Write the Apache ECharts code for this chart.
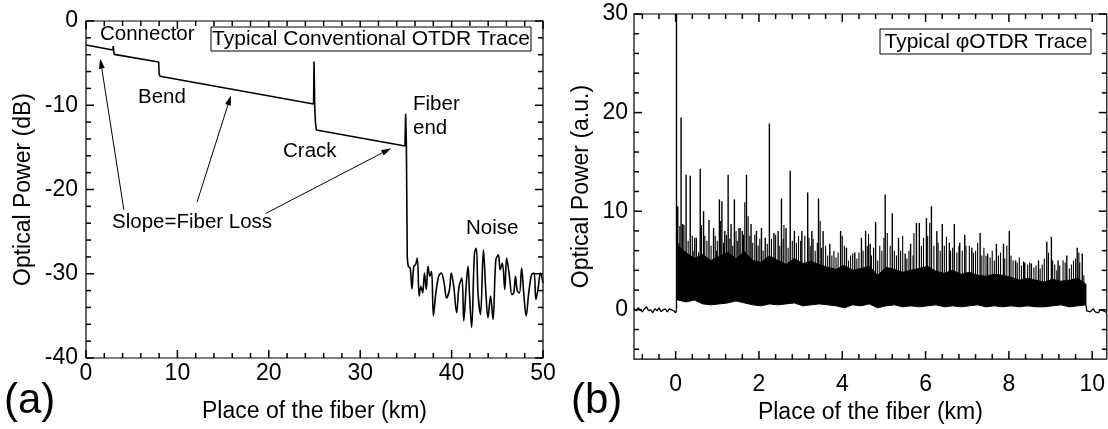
<!DOCTYPE html>
<html><head><meta charset="utf-8">
<script src="https://cdn.jsdelivr.net/npm/echarts@6/dist/echarts.min.js"></script>
<style>html,body{margin:0;padding:0;background:#fff}#c{width:1108px;height:429px}</style>
</head><body><div id="c"></div>
<script>
// ---------- Panel (a): conventional OTDR trace ----------
const aTraceX = [0, 2.95, 2.98, 3.03, 3.08, 7.95, 8.0, 8.1, 24.9, 24.95, 25.02, 25.1, 25.2, 34.9, 34.97, 35.05, 35.15];
const aTraceY = [-2.85, -3.44, -2.97, -3.1, -3.96, -4.87, -6.3, -6.55, -9.85, -4.8, -9.9, -12.0, -12.94, -14.84, -11.0, -14.5, -28.0];
const aNoiseX = [35.15, 35.27, 35.47, 35.66, 35.86, 36.05, 36.25, 36.45, 36.64, 36.84, 37.03, 37.23, 37.42, 37.62, 37.81, 38.01, 38.28, 38.59, 38.87, 39.18, 39.45, 39.77, 39.96, 40.23, 40.55, 40.82, 41.13, 41.33, 41.64, 41.80, 41.95, 42.19, 42.50, 42.70, 42.89, 43.16, 43.48, 43.75, 43.98, 44.26, 44.53, 44.84, 45.12, 45.31, 45.55, 45.82, 46.02, 46.33, 46.60, 46.80, 46.99, 47.19, 47.42, 47.66, 47.89, 48.16, 48.44, 48.75, 49.02, 49.22, 49.45, 49.73, 50.0];
const aNoiseY = [-28.0, -29.13, -29.32, -31.80, -29.13, -28.93, -28.15, -32.66, -31.48, -32.27, -29.91, -31.87, -29.13, -30.30, -29.72, -35.01, -32.27, -30.30, -29.91, -31.09, -32.86, -31.87, -29.91, -31.48, -34.62, -31.48, -30.50, -35.60, -30.70, -29.13, -32.27, -36.39, -27.56, -26.97, -32.27, -34.82, -27.16, -32.27, -35.21, -32.66, -35.41, -28.34, -27.75, -29.52, -28.73, -31.87, -28.15, -30.30, -32.46, -32.27, -30.30, -32.07, -32.27, -29.32, -32.27, -35.01, -32.27, -30.11, -29.91, -33.05, -31.87, -29.91, -31.09];
// arrows "Slope=Fiber Loss" (data units)
const aArrowFromX = [4.14, 12.15, 19.65];
const aArrowFromY = [-22.4, -21.5, -22.85];
const aArrowToX = [1.56, 15.86, 33.4];
const aArrowToY = [-4.47, -8.83, -15.1];
const aXMajor = [0, 10, 20, 30, 40, 50];
const aXMinor = [2, 4, 6, 8, 12, 14, 16, 18, 22, 24, 26, 28, 32, 34, 36, 38, 42, 44, 46, 48];
const aYMajor = [-40, -30, -20, -10, 0];
const aYMinor = [-38, -36, -34, -32, -28, -26, -24, -22, -18, -16, -14, -12, -8, -6, -4, -2];

// ---------- Panel (b): phi-OTDR trace ----------
const bPreX = [-1.0, -0.95, -0.9, -0.85, -0.8, -0.75, -0.7, -0.65, -0.6, -0.55, -0.5, -0.45, -0.4, -0.35, -0.3, -0.25, -0.2, -0.15, -0.1, -0.05, 0.0, 0.02];
const bPreY = [0.1, -0.1, 0.2, 0.0, -0.2, 0.1, 0.3, -0.1, 0.0, -0.3, 0.1, -0.1, 0.2, -0.2, 0.0, 0.1, -0.2, 0.1, 0.0, -0.1, -0.3, 0.0];
const bPostX = [9.85, 9.87, 9.91, 9.95, 9.99, 10.03, 10.07, 10.11, 10.15, 10.19, 10.23, 10.27, 10.31, 10.35];
const bPostY = [0.5, -0.1, 0.0, -0.2, -0.1, 0.1, -0.2, -0.1, -0.3, 0.0, -0.2, -0.1, -0.2, -0.3];
const bBandX = [0.05, 0.25, 0.45, 0.65, 0.85, 1.05, 1.25, 1.45, 1.65, 1.85, 2.05, 2.25, 2.45, 2.65, 2.85, 3.05, 3.25, 3.45, 3.65, 3.85, 4.05, 4.25, 4.45, 4.65, 4.85, 5.05, 5.25, 5.45, 5.65, 5.85, 6.05, 6.25, 6.45, 6.65, 6.85, 7.05, 7.25, 7.45, 7.65, 7.85, 8.05, 8.25, 8.45, 8.65, 8.85, 9.05, 9.25, 9.45, 9.65, 9.85];
const bBandHi = [6.5, 5.8, 5.2, 5.6, 5.0, 5.4, 5.8, 5.2, 5.9, 5.0, 4.8, 5.5, 5.0, 4.6, 5.2, 4.7, 4.9, 4.6, 4.3, 4.1, 4.5, 4.0, 4.2, 4.4, 3.5, 4.3, 4.1, 3.8, 4.0, 4.2, 4.4, 3.9, 3.7, 4.0, 3.6, 3.8, 3.5, 3.4, 3.6, 3.5, 3.3, 3.0, 3.2, 3.0, 2.8, 3.1, 2.9, 3.0, 3.2, 2.6];
const bBandLo = [1.0, 0.8, 1.0, 0.6, 0.5, 0.6, 0.7, 0.9, 0.7, 0.5, 0.4, 0.6, 0.5, 0.6, 0.7, 0.4, 0.5, 0.6, 0.5, 0.4, 0.2, 0.5, 0.4, 0.6, 0.2, 0.4, 0.5, 0.3, 0.4, 0.3, 0.4, 0.5, 0.3, 0.4, 0.3, 0.4, 0.5, 0.3, 0.4, 0.3, 0.4, 0.3, 0.4, 0.3, 0.3, 0.4, 0.5, 0.3, 0.4, 0.5];
// tall spikes
const bSpikeX = [0.02, 0.05, 0.13, 0.17, 0.25, 0.35, 0.46, 0.59, 0.67, 0.8, 0.91, 1.05, 1.11, 1.18, 1.26, 1.33, 1.41, 1.52, 1.6, 1.7, 1.81, 1.94, 2.06, 2.15, 2.25, 2.36, 2.46, 2.54, 2.65, 2.75, 2.85, 3.03, 3.17, 3.27, 3.43, 3.54, 3.7, 3.96, 4.1, 4.3, 4.46, 4.56, 4.67, 4.8, 5.03, 5.2, 5.35, 5.51, 5.64, 5.78, 5.85, 6.02, 6.14, 6.27, 6.4, 6.57, 6.69, 6.82, 6.94, 7.11, 7.31, 7.49, 7.7, 7.87, 8.01, 8.16, 8.38, 8.54, 8.71, 8.91, 9.02, 9.18, 9.39, 9.64, 9.76];
const bSpikeY = [30, 10.5, 19.5, 8.7, 13.7, 13.6, 7.3, 14.3, 10.0, 9.1, 8.3, 11.2, 11.0, 8.0, 13.7, 8.7, 11.2, 8.3, 8.0, 13.7, 8.7, 8.0, 8.3, 7.3, 18.9, 7.8, 8.0, 11.3, 8.3, 14.1, 8.0, 8.0, 11.9, 8.0, 11.3, 8.0, 6.7, 8.0, 6.3, 5.8, 7.3, 8.0, 6.7, 8.9, 11.7, 9.8, 7.3, 5.7, 6.7, 8.8, 8.8, 9.3, 10.5, 8.0, 8.7, 6.8, 8.7, 6.8, 7.6, 6.3, 7.8, 5.7, 6.7, 6.7, 8.0, 5.0, 4.8, 4.7, 5.0, 6.9, 7.4, 5.0, 5.5, 6.3, 5.7];
// mid-level "grass" spikes
const bGrassX = [0.08, 0.1, 0.2, 0.3, 0.4, 0.42, 0.5, 0.55, 0.62, 0.7, 0.75, 0.85, 0.95, 0.98, 1.0, 1.08, 1.15, 1.22, 1.3, 1.37, 1.45, 1.48, 1.55, 1.63, 1.66, 1.74, 1.78, 1.85, 1.9, 1.98, 2.02, 2.1, 2.2, 2.3, 2.4, 2.5, 2.58, 2.6, 2.7, 2.8, 2.9, 2.95, 3.0, 3.1, 3.2, 3.23, 3.3, 3.35, 3.4, 3.47, 3.5, 3.6, 3.65, 3.75, 3.8, 3.85, 3.9, 4.0, 4.05, 4.15, 4.2, 4.25, 4.35, 4.4, 4.5, 4.6, 4.63, 4.7, 4.75, 4.85, 4.9, 4.95, 5.0, 5.08, 5.15, 5.25, 5.3, 5.4, 5.45, 5.55, 5.6, 5.7, 5.72, 5.9, 5.95, 6.05, 6.1, 6.2, 6.3, 6.35, 6.45, 6.5, 6.6, 6.65, 6.75, 6.8, 6.88, 6.97, 7.05, 7.15, 7.2, 7.25, 7.35, 7.4, 7.45, 7.55, 7.6, 7.65, 7.75, 7.8, 7.9, 7.95, 8.05, 8.1, 8.2, 8.25, 8.3, 8.35, 8.45, 8.5, 8.6, 8.65, 8.75, 8.8, 8.85, 8.95, 9.05, 9.1, 9.15, 9.22, 9.3, 9.35, 9.45, 9.5, 9.55, 9.6, 9.68, 9.7, 9.8];
const bGrassY = [6.8, 8.5, 8.6, 7.0, 7.5, 6.0, 7.3, 5.8, 8.6, 7.5, 7.0, 6.5, 7.5, 6.0, 7.0, 9.0, 6.8, 7.6, 7.2, 6.5, 8.0, 7.0, 8.3, 7.6, 10.9, 9.5, 7.5, 6.8, 7.6, 6.5, 7.2, 6.0, 6.7, 7.2, 7.6, 6.5, 7.2, 8.6, 6.3, 7.0, 6.8, 7.5, 7.0, 7.5, 7.3, 6.5, 7.2, 6.0, 6.8, 9.0, 6.3, 6.5, 5.5, 5.5, 6.0, 5.3, 5.8, 7.5, 6.5, 5.0, 5.5, 5.7, 5.2, 5.8, 6.0, 6.5, 7.7, 5.5, 6.3, 5.0, 6.5, 6.0, 7.3, 7.8, 6.5, 6.0, 5.5, 6.0, 7.5, 5.2, 6.0, 5.5, 7.8, 6.5, 7.3, 7.5, 8.8, 6.5, 6.8, 6.0, 6.5, 7.4, 6.0, 6.3, 5.8, 6.5, 6.0, 6.5, 6.5, 5.8, 6.0, 6.8, 5.5, 6.3, 5.5, 5.3, 6.0, 5.0, 5.5, 5.8, 5.2, 6.5, 5.5, 5.0, 4.8, 5.3, 4.5, 4.9, 4.6, 4.8, 4.3, 4.5, 4.2, 4.6, 5.2, 5.8, 5.0, 4.6, 4.0, 4.5, 5.0, 4.8, 4.2, 4.6, 5.0, 5.2, 5.8, 4.8, 3.5];
const bXMajor = [0, 2, 4, 6, 8, 10];
const bXMinor = [-0.8, -0.4, 0.4, 0.8, 1.2, 1.6, 2.4, 2.8, 3.2, 3.6, 4.4, 4.8, 5.2, 5.6, 6.4, 6.8, 7.2, 7.6, 8.4, 8.8, 9.2, 9.6, 10.4];
const bYMajor = [0, 10, 20, 30];
const bYMinor = [-4, -2, 2, 4, 6, 8, 12, 14, 16, 18, 22, 24, 26, 28];

const FONT = '"Liberation Sans", Arial, sans-serif';
const TICK_FS = 23, TITLE_FS = 23, ANN_FS = 20.5;
const MAJOR_PX = 8, MINOR_PX = 5;
const zip = (xs, ys) => xs.map((x, i) => [x, ys[i]]);
const black = '#000';

// grid boxes (pixels) and axis ranges
const G = [
  { left: 86, top: 21, width: 457, height: 337, x: [0, 50], y: [-40, 0] },
  { left: 634, top: 14, width: 473, height: 349, x: [-1, 10.35], y: [-5, 30] }
];

function labelAxis(o) {
  const a = {
    type: 'value', gridIndex: o.grid, position: o.pos, min: o.min, max: o.max,
    axisLine: { show: false, onZero: false },
    axisTick: { show: false }, minorTick: { show: false }, splitLine: { show: false },
    axisLabel: { show: true, color: black, fontSize: TICK_FS, fontFamily: FONT, margin: o.margin },
    name: o.name, nameLocation: 'middle', nameGap: o.nameGap,
    nameTextStyle: { color: black, fontSize: TITLE_FS, fontFamily: FONT }
  };
  if (o.interval) a.interval = o.interval;
  if (o.labelValues) a.axisLabel.customValues = o.labelValues;
  return a;
}

const xAxes = [
  labelAxis({ grid: 0, pos: 'bottom', min: G[0].x[0], max: G[0].x[1], interval: 10, margin: 4, name: 'Place of the fiber (km)', nameGap: 42 }),
  labelAxis({ grid: 1, pos: 'bottom', min: G[1].x[0], max: G[1].x[1], labelValues: bXMajor, margin: 14, name: 'Place of the fiber (km)', nameGap: 36 })
];
const yAxes = [
  labelAxis({ grid: 0, pos: 'left', min: G[0].y[0], max: G[0].y[1], interval: 10, margin: 8, name: 'Optical Power (dB)', nameGap: 51 }),
  labelAxis({ grid: 1, pos: 'left', min: G[1].y[0], max: G[1].y[1], labelValues: bYMajor, margin: 6, name: 'Optical Power (a.u.)', nameGap: 41 })
];

// inward ticks on all four frame sides, drawn with a custom series through the axis scales
function tickItems(xMaj, xMin, yMaj, yMin) {
  const d = [];
  xMaj.forEach(v => d.push([v, 0, MAJOR_PX]));
  xMin.forEach(v => d.push([v, 0, MINOR_PX]));
  yMaj.forEach(v => d.push([v, 1, MAJOR_PX]));
  yMin.forEach(v => d.push([v, 1, MINOR_PX]));
  return d;
}
function tickSeries(gi) {
  const g0 = G[gi];
  const src = gi === 0 ? tickItems(aXMajor, aXMinor, aYMajor, aYMinor) : tickItems(bXMajor, bXMinor, bYMajor, bYMinor);
  return {
    type: 'custom', xAxisIndex: gi, yAxisIndex: gi, animation: false, silent: true, clip: false, z: 30,
    data: src.map(t => [t[0], t[1], t[2]]),
    renderItem: function (params, api) {
      const v = api.value(0), kind = api.value(1), len = api.value(2);
      const bl = api.coord([g0.x[0], g0.y[0]]);  // bottom-left
      const tr = api.coord([g0.x[1], g0.y[1]]);  // top-right
      const st = { stroke: black, lineWidth: 1.5 };
      if (kind === 0) {
        const x = api.coord([v, g0.y[0]])[0];
        return { type: 'group', children: [
          { type: 'line', shape: { x1: x, y1: bl[1], x2: x, y2: bl[1] - len }, style: st },
          { type: 'line', shape: { x1: x, y1: tr[1], x2: x, y2: tr[1] + len }, style: st }
        ] };
      }
      const y = api.coord([g0.x[0], v])[1];
      return { type: 'group', children: [
        { type: 'line', shape: { x1: bl[0], y1: y, x2: bl[0] + len, y2: y }, style: st },
        { type: 'line', shape: { x1: tr[0], y1: y, x2: tr[0] - len, y2: y }, style: st }
      ] };
    }
  };
}

const lineCommon = { type: 'line', showSymbol: false, symbol: 'none', animation: false, silent: true };
const spikeRender = (w) => function (params, api) {
  const p1 = api.coord([api.value(0), api.value(2)]);
  const p2 = api.coord([api.value(0), api.value(1)]);
  return { type: 'line', shape: { x1: p1[0], y1: p1[1], x2: p2[0], y2: p2[1] },
    style: { stroke: black, lineWidth: w } };
};

const series = [
  Object.assign({}, lineCommon, {
    xAxisIndex: 0, yAxisIndex: 0, data: zip(aTraceX, aTraceY),
    lineStyle: { color: black, width: 1.6 }
  }),
  Object.assign({}, lineCommon, {
    xAxisIndex: 0, yAxisIndex: 0, data: zip(aNoiseX, aNoiseY), smooth: 0.35,
    lineStyle: { color: black, width: 1.6 }
  }),
  {
    type: 'custom', xAxisIndex: 0, yAxisIndex: 0, animation: false, silent: true, clip: false, z: 5,
    data: aArrowFromX.map((fx, i) => [fx, aArrowFromY[i], aArrowToX[i], aArrowToY[i]]),
    renderItem: function (params, api) {
      const p0 = api.coord([api.value(0), api.value(1)]);
      const p1 = api.coord([api.value(2), api.value(3)]);
      const dx = p1[0] - p0[0], dy = p1[1] - p0[1], L = Math.sqrt(dx * dx + dy * dy);
      const ux = dx / L, uy = dy / L, hl = 10, hw = 3;
      const bx = p1[0] - ux * hl, by = p1[1] - uy * hl;
      return { type: 'group', children: [
        { type: 'line', shape: { x1: p0[0], y1: p0[1], x2: bx, y2: by }, style: { stroke: black, lineWidth: 1 } },
        { type: 'polygon', shape: { points: [[p1[0], p1[1]], [bx - uy * hw, by + ux * hw], [bx + uy * hw, by - ux * hw]] },
          style: { fill: black } }
      ] };
    }
  },
  tickSeries(0),
  // panel b
  Object.assign({}, lineCommon, {
    xAxisIndex: 1, yAxisIndex: 1, data: zip(bPreX, bPreY), lineStyle: { color: black, width: 1.3 }
  }),
  Object.assign({}, lineCommon, {
    xAxisIndex: 1, yAxisIndex: 1, data: zip(bPostX, bPostY), lineStyle: { color: black, width: 1.3 }
  }),
  {
    type: 'custom', xAxisIndex: 1, yAxisIndex: 1, animation: false, silent: true,
    data: [[bBandX[0], bBandHi[0]]],
    renderItem: function (params, api) {
      const top = bBandX.map((x, i) => api.coord([x, bBandHi[i]]));
      const bot = bBandX.map((x, i) => api.coord([x, bBandLo[i]])).reverse();
      return { type: 'polygon', shape: { points: top.concat(bot) },
        style: { fill: black, stroke: black, lineWidth: 1 } };
    }
  },
  {
    type: 'custom', xAxisIndex: 1, yAxisIndex: 1, animation: false, silent: true,
    data: bGrassX.map((x, i) => [x, bGrassY[i], 1]),
    renderItem: spikeRender(1.1)
  },
  {
    type: 'custom', xAxisIndex: 1, yAxisIndex: 1, animation: false, silent: true,
    data: bSpikeX.map((x, i) => [x, bSpikeY[i], i === 0 ? 0 : 1]),
    renderItem: spikeRender(1.4)
  },
  tickSeries(1)
];

const T = (text, x, y, size, align) => ({ type: 'text', x: x, y: y, silent: true,
  style: { text: text, font: size + 'px ' + FONT, fill: black, textAlign: align || 'left', textVerticalAlign: 'middle' } });

const graphic = [
  T('Connector', 100, 34, ANN_FS),
  T('Bend', 138, 97, ANN_FS),
  T('Crack', 283, 151, ANN_FS),
  T('Fiber', 413, 104, ANN_FS),
  T('end', 413, 128, ANN_FS),
  T('Noise', 466, 228, ANN_FS),
  T('Slope=Fiber Loss', 112, 222, ANN_FS),
  { type: 'rect', shape: { x: 211, y: 27, width: 320, height: 24 }, style: { fill: '#fff', stroke: black, lineWidth: 1 }, z: 100 },
  Object.assign(T('Typical Conventional OTDR Trace', 371, 39.5, 21, 'center'), { z: 101 }),
  { type: 'rect', shape: { x: 880, y: 29, width: 211, height: 25 }, style: { fill: '#fff', stroke: black, lineWidth: 1 }, z: 100 },
  Object.assign(T('Typical \u03c6OTDR Trace', 986, 42, 21, 'center'), { z: 101 }),
  T('(a)', 4, 401, 42),
  T('(b)', 571, 401, 42)
];

const chart = echarts.init(document.getElementById('c'), null, { renderer: 'canvas' });
chart.setOption({
  animation: false,
  backgroundColor: '#fff',
  grid: G.map(g => ({ left: g.left, top: g.top, width: g.width, height: g.height, containLabel: false,
    show: true, borderColor: black, borderWidth: 1.2, backgroundColor: 'transparent' })),
  xAxis: xAxes,
  yAxis: yAxes,
  series: series,
  graphic: graphic
});
</script>
</body></html>
